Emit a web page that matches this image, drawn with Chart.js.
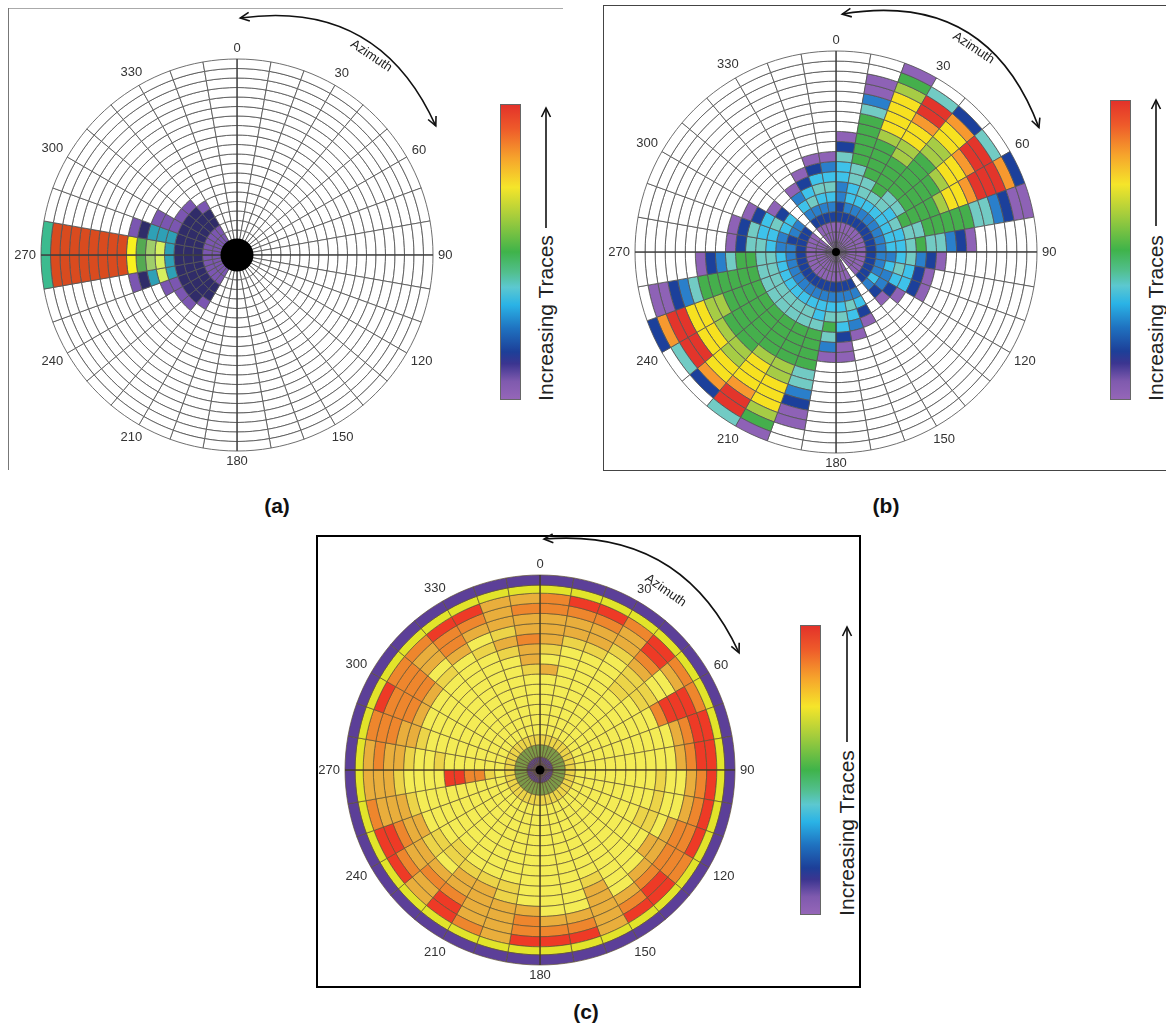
<!DOCTYPE html>
<html lang="en">
<head>
<meta charset="UTF-8">
<title>Azimuth / offset rose diagrams</title>
<script src="https://cdn.jsdelivr.net/npm/chart.js"></script>
<style>
  html, body { margin: 0; padding: 0; background: #fff; }
  body { width: 1166px; height: 1032px; position: relative; overflow: hidden;
         font-family: Arial, "Liberation Sans", Helvetica, sans-serif; }
  canvas.rose { position: absolute; z-index: 1; }
  .line, .frame { position: absolute; box-sizing: border-box; }
  .cbar { position: absolute; width: 21px; border: 1px solid #666; box-sizing: border-box; z-index: 2;
          background: linear-gradient(to bottom, #e3322a 0%, #ee5a2a 8%, #f6a32c 18%, #f5e52a 28%,
            #a6cd3c 38%, #3fb34a 50%, #52bf8e 57%, #5cc8d0 62%, #2ab3e6 68%, #1f72c0 76%,
            #1d3f98 84%, #3b3590 88%, #7f5aae 94%, #9566b8 100%); }
  .cbar-label { position: absolute; font-size: 21px; color: #222; white-space: nowrap; z-index: 2;
                transform: translate(-50%, -50%) rotate(-90deg); }
  .cap { position: absolute; font-weight: bold; font-size: 21px; color: #111; transform: translateX(-50%); }
  svg.up { position: absolute; overflow: visible; z-index: 2; }
</style>
</head>
<body>

<div class="line" style="left:8px; top:8px; width:555px; height:1px; background:#aaa;"></div>
<div class="line" style="left:8px; top:8px; width:1px; height:462px; background:#777;"></div>
<div class="frame" style="left:603px; top:5px; width:570px; height:466px; border:1px solid #444;"></div>
<div class="frame" style="left:316px; top:535px; width:545px; height:453px; border:2px solid #000;"></div>

<canvas id="roseA" class="rose" width="500" height="500" style="left:0px; top:0px;"></canvas>
<canvas id="roseB" class="rose" width="500" height="500" style="left:590px; top:0px;"></canvas>
<canvas id="roseC" class="rose" width="500" height="490" style="left:290px; top:520px;"></canvas>

<div class="cbar" style="left:500px; top:104px; height:296px;"></div>
<div class="cbar" style="left:1110px; top:100px; height:300px;"></div>
<div class="cbar" style="left:800px; top:625px; height:290px;"></div>

<div class="cbar-label" style="left:546px; top:318px;">Increasing Traces</div>
<div class="cbar-label" style="left:1156px; top:318px;">Increasing Traces</div>
<div class="cbar-label" style="left:847px; top:833px;">Increasing Traces</div>

<div class="cap" style="left:277px; top:494px;">(a)</div>
<div class="cap" style="left:886px; top:494px;">(b)</div>
<div class="cap" style="left:586px; top:1000px;">(c)</div>

<script>
// azimuth tick labels (degrees, clockwise from north)
const azimuthLabels = ['0', '30', '60', '90', '120', '150', '180', '210', '240', '270', '300', '330'];

// trace level per cell: one string per 10° sector (0-10, 10-20, ...),
// one character per ring from the outer ring inwards. 0 = no traces, 1 = fewest ... a/b = most
const panelA = [
  '0000000000000000000', '0000000000000000000', '0000000000000000000', '0000000000000000000',
  '0000000000000000000', '0000000000000000000', '0000000000000000000', '0000000000000000000',
  '0000000000000000000', '0000000000000000000', '0000000000000000000', '0000000000000000000',
  '0000000000000000000', '0000000000000000000', '0000000000000000000', '0000000000000000000',
  '0000000000000000000', '0000000000000000000', '0000000000000000000', '0000000000000000000',
  '0000000000000000000', '0000000000000012211', '0000000000000122211', '0000000000000122211',
  '0000000000001122211', '0000000001248422211', '5aaaaaaaa9678422211', '5aaaaaaaa9678422211',
  '0000000001244422211', '0000000000011122211', '0000000000000122211', '0000000000000122211',
  '0000000000000012211', '0000000000000000000', '0000000000000000000', '0000000000000000000'
];

const panelB = [
  '00000000125443322111', '00113566666554432111', '16788887666655432111', '05aa9887766665432111',
  '02988776666655432111', '05aa9887666654432111', '29aaa988766665432111', '11235566666554432111',
  '00000012355654432111', '00000000012354332111', '00000000001245432111', '00000000001244332111',
  '00000000000012342111', '00000000000001232111', '00000000000000000000', '00000000000012432111',
  '00000000000134532111', '00000000011245432111', '00000000013565432111', '00112355666654432111',
  '16788877666655432111', '5aa98887666655432111', '02988776666655432111', '05aa8876666655432111',
  '29aa8877666655432111', '01123566666655432111', '00000012356655432111', '00000000012554332111',
  '00000000012544322111', '00000000001245432111', '00000000000012432111', '00000000000000000000',
  '00000000000013432111', '00000000000124532111', '00000000001245432111', '00000000001345432111'
];

const panelC = [
  '16aa9998797777778511', '16ba9987777777778511', '16ba9987777777778511', '16a99877777777778511',
  '16bba988877777778511', '16a97788777777778511', '16abbba7777777778511', '16bba977777777778511',
  '16bba977777777778511', '16ba9778777777778511', '16ba9778777777778511', '16baa978877777778511',
  '16aaa997777777778511', '16bba977777777778511', '16ba9777777777778511', '16999998777777778511',
  '16ba9777777777778511', '16ba9777777777778511', '16baa977777777778511', '16999988777777778511',
  '16a99998777777778511', '16bba998777777778511', '1699a978877777778511', '16ba9988777777778511',
  '16bba997777777778511', '16a99987777777778511', '1699987777bbaa878511', '169a9987787777778511',
  '16aaa998777777778511', '16baaa97777777778511', '16aaaa97777777778511', '16a99787777777778511',
  '16baa977777777778511', '16ba9787777777778511', '16999898777777778511', '169a99a9987777778511'
];

// colour for each trace level, per panel
const paletteA = { '1': '#7b56b1', '2': '#302c69', '4': '#2ea0b6', '5': '#3cbb8f', '6': '#55aa52',
                   '7': '#9fcd6a', '8': '#d6ef5f', '9': '#f8f21e', 'a': '#d94b1f' };
const paletteB = { '1': '#8e62b6', '2': '#1c409b', '3': '#2a7fcb', '4': '#3ec2ea', '5': '#72cbc4',
                   '6': '#45af4c', '7': '#a6cc45', '8': '#f7e120', '9': '#f7992f', 'a': '#e3352b' };
const paletteC = { '1': '#5c3f98', '5': '#7c9a48', '6': '#e2e42a', '7': '#f4ec55', '8': '#ecd448',
                   '9': '#e9ae3c', 'a': '#ee862d', 'b': '#ee3a26' };

function ringDatasets(sectors, palette, cfg) {
  const rings = sectors[0].length;
  const sets = [];
  for (let k = 0; k < rings; k++) {
    sets.push({
      data: sectors.map(() => 1),   // every sector is one 10° bin
      backgroundColor: sectors.map(s => palette[s[k]] || '#ffffff'),
      borderColor: cfg.grid,
      borderWidth: cfg.gridWidth,
      weight: cfg.weights ? cfg.weights[k] : 1,
      hoverOffset: 0
    });
  }
  return sets;
}

function makeDecor(cfg) {
  return {
    id: 'decor',
    afterDatasetsDraw(chart) {
      const ctx = chart.ctx;
      const ca = chart.chartArea;
      const cx = (ca.left + ca.right) / 2, cy = (ca.top + ca.bottom) / 2;
      const R = cfg.R;
      const pt = (az, r) => {
        const a = az * Math.PI / 180;
        return [cx + r * Math.sin(a), cy - r * Math.cos(a)];
      };
      ctx.save();
      // main N-S / E-W axes
      ctx.strokeStyle = cfg.axis;
      ctx.lineWidth = 1;
      ctx.beginPath();
      ctx.moveTo(cx - R, cy); ctx.lineTo(cx + R, cy);
      ctx.moveTo(cx, cy - R); ctx.lineTo(cx, cy + R);
      ctx.stroke();
      // centre dot
      ctx.fillStyle = '#000';
      ctx.beginPath(); ctx.arc(cx, cy, cfg.dot, 0, Math.PI * 2); ctx.fill();

      // angle labels
      ctx.font = '13px Arial, "Liberation Sans", sans-serif';
      ctx.fillStyle = '#333';
      ctx.textAlign = 'center';
      ctx.textBaseline = 'middle';
      azimuthLabels.forEach(lab => {
        const a = Number(lab) * Math.PI / 180;
        const w = ctx.measureText(lab).width;
        const r = R + 5 + Math.abs(Math.sin(a)) * w / 2 + Math.abs(Math.cos(a)) * 5.5;
        const [x, y] = pt(Number(lab), r);
        ctx.fillText(lab, x, y);
      });

      // curved azimuth arrow (double headed)
      const A = cfg.arrow;
      const S = pt(A.a0, A.r0), E = pt(A.a1, A.r0), M = pt((A.a0 + A.a1) / 2, A.rm);
      const C = [2 * M[0] - (S[0] + E[0]) / 2, 2 * M[1] - (S[1] + E[1]) / 2];
      ctx.strokeStyle = '#111';
      ctx.lineWidth = 1.6;
      ctx.beginPath();
      ctx.moveTo(S[0], S[1]);
      ctx.quadraticCurveTo(C[0], C[1], E[0], E[1]);
      ctx.stroke();
      const head = (P) => {
        const ang = Math.atan2(P[1] - C[1], P[0] - C[0]);
        ctx.beginPath();
        ctx.moveTo(P[0] - 10 * Math.cos(ang - 0.45), P[1] - 10 * Math.sin(ang - 0.45));
        ctx.lineTo(P[0], P[1]);
        ctx.lineTo(P[0] - 10 * Math.cos(ang + 0.45), P[1] - 10 * Math.sin(ang + 0.45));
        ctx.stroke();
      };
      head(S); head(E);

      const [tx, ty] = pt(A.taz, A.tr);
      ctx.translate(tx, ty);
      ctx.rotate(A.taz * Math.PI / 180);
      ctx.fillStyle = '#222';
      ctx.fillText('Azimuth', 0, 0);
      ctx.restore();
    }
  };
}

function drawRose(id, sectors, palette, cfg) {
  const canvas = document.getElementById(id);
  const W = canvas.width, H = canvas.height;
  new Chart(canvas, {
    type: 'doughnut',
    data: {
      labels: sectors.map((_, i) => (i * 10) + '°'),
      datasets: ringDatasets(sectors, palette, cfg)
    },
    options: {
      responsive: false,
      animation: false,
      events: [],
      radius: cfg.R,
      cutout: cfg.cutout,
      layout: { padding: { left: cfg.cx - cfg.R, top: cfg.cy - cfg.R,
                           right: W - cfg.cx - cfg.R, bottom: H - cfg.cy - cfg.R } },
      plugins: { legend: { display: false }, tooltip: { enabled: false } }
    },
    plugins: [makeDecor(cfg)]
  });
}

drawRose('roseA', panelA, paletteA, {
  cx: 237, cy: 255, R: 196, cutout: (15.5 / 196 * 100) + '%', dot: 16.5,
  grid: '#555', gridWidth: 0.85, axis: '#333',
  arrow: { a0: 0.8, a1: 57, r0: 237, rm: 251, taz: 34, tr: 240 }
});
drawRose('roseB', panelB, paletteB, {
  cx: 246, cy: 252, R: 201, cutout: 0, dot: 4,
  grid: '#555', gridWidth: 0.85, axis: '#333',
  arrow: { a0: 1.5, a1: 58.5, r0: 238, rm: 256, taz: 34, tr: 246 }
});
drawRose('roseC', panelC, paletteC, {
  cx: 250, cy: 250, R: 195, cutout: 0, dot: 4.5,
  grid: '#5e5230', gridWidth: 0.7, axis: '#3a3320',
  // ring thickness: thin yellow rim, wider olive ring and small purple centre
  weights: [1, 0.8, 1, 1, 1, 1, 1, 1, 1, 1, 1, 1, 1, 1, 1, 1, 1, 1.2, 0.65, 0.65],
  arrow: { a0: 1, a1: 59.5, r0: 231, rm: 241, taz: 35, tr: 219 }
});

// vertical "increasing" arrows beside the colour bars
[[546, 108, 228], [1156, 100, 226], [847, 627, 742]].forEach(([x, tip, tail]) => {
  const ns = 'http://www.w3.org/2000/svg';
  const svg = document.createElementNS(ns, 'svg');
  svg.setAttribute('class', 'up');
  svg.setAttribute('width', '20');
  svg.setAttribute('height', String(tail - tip + 4));
  svg.style.left = (x - 10) + 'px';
  svg.style.top = (tip - 2) + 'px';
  const h = tail - tip + 2;
  svg.innerHTML = `<line x1="10" y1="2" x2="10" y2="${h}" stroke="#111" stroke-width="1.6"/>` +
    `<polyline points="5.5,11 10,2 14.5,11" fill="none" stroke="#111" stroke-width="1.6"/>`;
  document.body.appendChild(svg);
});
</script>
</body>
</html>
